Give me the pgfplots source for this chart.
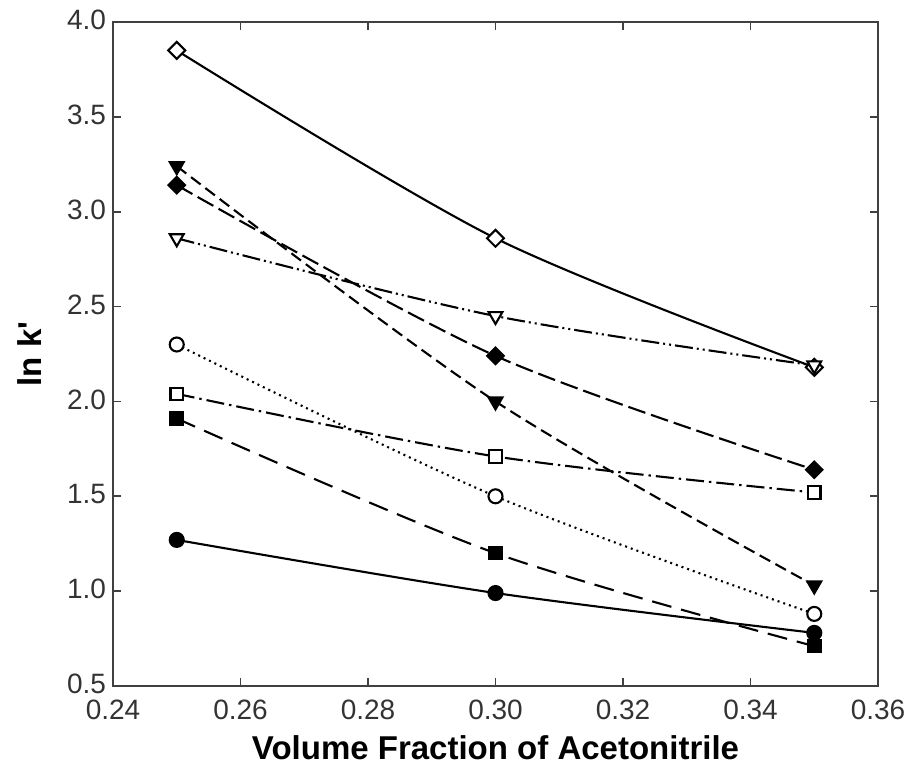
\documentclass[border=0pt]{standalone}
\usepackage{pgfplots}
\pgfplotsset{compat=1.18}
\usepackage{fontspec}
\setmainfont{Liberation Sans}
\begin{document}
\begin{tikzpicture}
\useasboundingbox (-56.5pt,-47pt) rectangle (398pt,343pt);
\begin{axis}[
  at={(0,0)}, anchor=south west,
  scale only axis, width=382.5pt, height=332pt,
  xmin=0.24, xmax=0.36, ymin=0.5, ymax=4.0,
  xtick={0.24,0.26,...,0.36}, ytick={0.5,1.0,...,4.0},
  /pgf/number format/assume math mode=true,
  tick label style={font=\fontsize{14}{15}\selectfont, color=black!80},
  xticklabel style={yshift=-3.5pt, /pgf/number format/.cd, fixed, fixed zerofill, precision=2},
  yticklabel style={yshift=1pt, /pgf/number format/.cd, fixed, fixed zerofill, precision=1},
  tick align=inside, major tick length=4pt,
  axis line style={line width=1pt, black!75},
  every tick/.style={line width=0.9pt, black!75},
  xlabel={\textbf{Volume Fraction of Acetonitrile}},
  ylabel={\textbf{ln k\textquotesingle}},
  label style={font=\fontsize{16.5}{18}\selectfont},
  xlabel style={at={(axis description cs:0.5,-0.0934)}, anchor=center},
  ylabel style={at={(axis description cs:-0.1085,0.5)}, anchor=center},
  every axis plot/.append style={black, line width=1.05pt, smooth},
]
% open diamonds, solid
\addplot[solid, mark=square*, mark size=3pt, mark options={solid, rotate=45, fill=white}]
  coordinates {(0.25,3.85) (0.30,2.86) (0.35,2.18)};
% filled down-triangles, dashed
\addplot[dash pattern=on 6pt off 3pt, mark=triangle*, mark size=4pt, mark options={solid, rotate=180}]
  coordinates {(0.25,3.24) (0.30,2.00) (0.35,1.03)};
% filled diamonds, long dashes
\addplot[dash pattern=on 9pt off 3pt, mark=square*, mark size=2.9pt, mark options={solid, rotate=45}]
  coordinates {(0.25,3.14) (0.30,2.24) (0.35,1.64)};
% open down-triangles, dash-dot-dot
\addplot[dash pattern=on 9pt off 2pt on 1pt off 2pt on 1pt off 2pt, mark=triangle*, mark size=4pt, mark options={solid, rotate=180, fill=white}]
  coordinates {(0.25,2.86) (0.30,2.45) (0.35,2.19)};
% open circles, dotted
\addplot[dash pattern=on 1pt off 2pt, mark=*, mark size=3.5pt, mark options={solid, fill=white}]
  coordinates {(0.25,2.30) (0.30,1.50) (0.35,0.88)};
% open squares, dash-dot
\addplot[dash pattern=on 9pt off 2.5pt on 1.2pt off 2.5pt, mark=square*, mark size=3.1pt, mark options={solid, fill=white}]
  coordinates {(0.25,2.04) (0.30,1.71) (0.35,1.52)};
% filled squares, long dashes
\addplot[dash pattern=on 10pt off 5pt, mark=square*, mark size=3.1pt, mark options={solid}]
  coordinates {(0.25,1.91) (0.30,1.20) (0.35,0.71)};
% filled circles, solid
\addplot[solid, mark=*, mark size=3.5pt]
  coordinates {(0.25,1.27) (0.30,0.99) (0.35,0.78)};
\end{axis}
\end{tikzpicture}
\end{document}
